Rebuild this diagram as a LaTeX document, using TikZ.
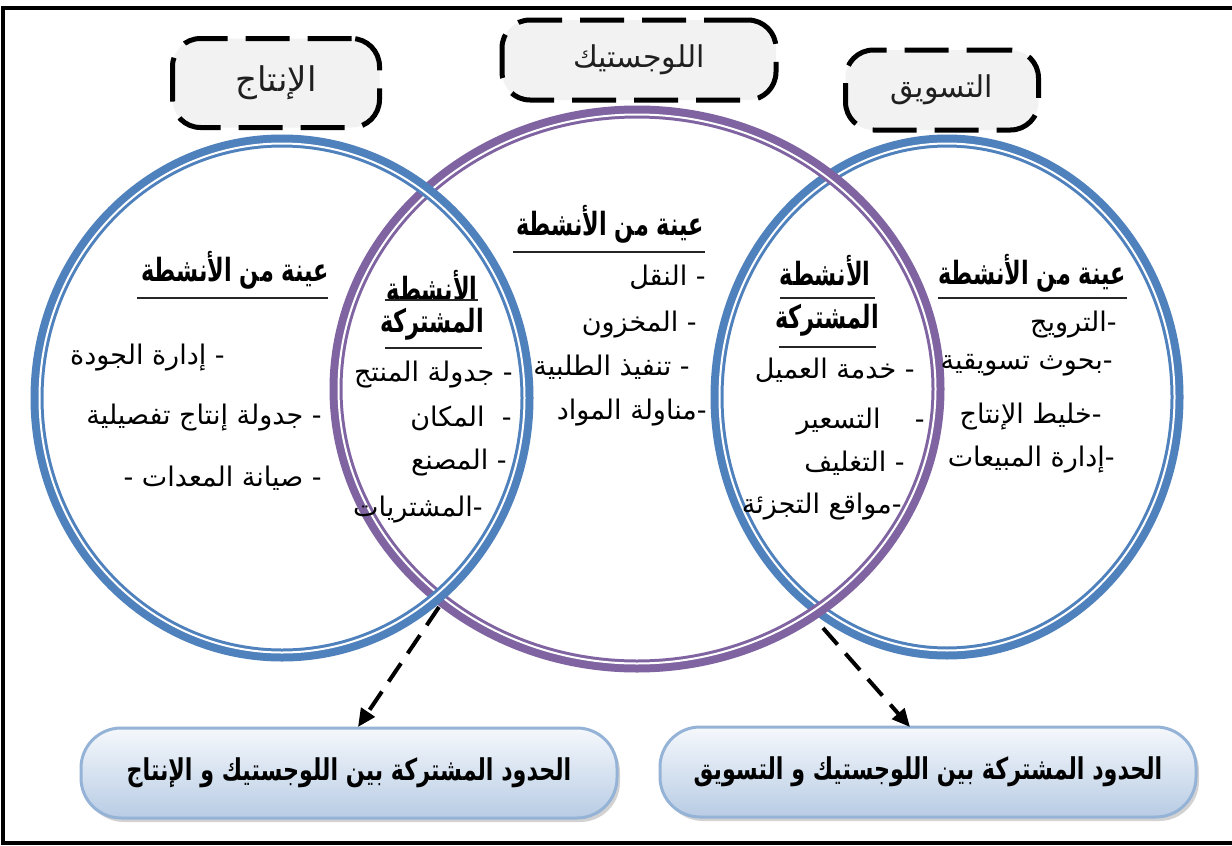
\documentclass[tikz,border=0pt]{standalone}
\usepackage{fontspec}
\usetikzlibrary{arrows.meta,shadows,calc}
\TeXXeTstate=1
\newfontfamily\arfont[Script=Arabic]{DejaVu Sans}
\newfontfamily\arcond[Script=Arabic, FakeStretch=0.7]{DejaVu Sans}
\newfontfamily\arbot[Script=Arabic, FakeStretch=0.74]{DejaVu Sans}
\definecolor{cblue}{HTML}{4F81BD}
\definecolor{cpurp}{HTML}{8064A2}
\definecolor{boxline}{HTML}{95B3D7}
\definecolor{boxtop}{HTML}{F5F8FC}
\definecolor{boxbot}{HTML}{B8CCE4}
\definecolor{lblfill}{HTML}{F2F2F2}
\begin{document}
\begin{tikzpicture}[x=0.5pt,y=-0.5pt,
  item/.style={anchor=east, inner sep=0pt, font=\arfont\fontsize{13.5}{15}\selectfont},
  head/.style={anchor=center, inner sep=0pt, font=\arcond\bfseries\fontsize{16}{18}\selectfont},
  uline/.style={line width=0.7pt, black!85},
  toplabel/.style={draw=black, line width=2.5pt, dash pattern=on 22pt off 9pt, rounded corners=14pt,
     fill=lblfill, inner sep=0pt, text=black!88, font=\arfont\fontsize{15}{17}\selectfont},
  botbox/.style={draw=boxline, line width=1.5pt, rounded corners=20pt, top color=boxtop, bottom color=boxbot,
     drop shadow={shadow xshift=1.5pt, shadow yshift=-2pt, fill=black!35, opacity=0.5},
     minimum width=268pt, minimum height=45pt, inner sep=0pt, font=\arbot\bfseries\fontsize{15}{17}\selectfont},
  ring/.style={line width=6.5pt},
  gap/.style={line width=1pt, white},
  arr/.style={line width=2pt, dash pattern=on 11pt off 6pt, -{Triangle[length=9pt,width=8pt]}}]
\useasboundingbox (0,0) rectangle (1232,846);
\clip (0,0) rectangle (1232,846);
\fill[white] (0,0) rectangle (1232,846);
\draw[line width=2.2pt] (3,8) rectangle (1260,843);

% rings (right blue, purple, left blue)
\draw[ring, cblue] (947,397) ellipse [x radius=115pt, y radius=128pt];
\draw[gap] (947,397) ellipse [x radius=113.75pt, y radius=126.75pt];
\draw[ring, cpurp] (637,389) ellipse [x radius=150.5pt, y radius=138.5pt];
\draw[gap] (637,389) ellipse [x radius=149.25pt, y radius=137.25pt];
\draw[ring, cblue] (282,398) ellipse [x radius=122.5pt, y radius=128.5pt];
\draw[gap] (282,398) ellipse [x radius=121.25pt, y radius=127.25pt];

% top labels
\node[toplabel, minimum width=103.5pt, minimum height=44.5pt, font=\arfont\fontsize{17}{19}\selectfont] (lprod) at (276,83) {\beginR الإنتاج\endR};
\node[toplabel, minimum width=137pt, minimum height=40pt] (llog) at (639,60) {\beginR اللوجستيك\endR};
\node[toplabel, minimum width=96.5pt, minimum height=40pt] (lmkt) at (942,90) {\beginR التسويق\endR};

% left circle
\node[head] (h1) at (235,270) {\beginR عينة من الأنشطة\endR};
\draw[uline] (137,298) -- (328,298);
\node[item] (a1) at (225,358) {\beginR - إدارة الجودة\endR};
\node[item] (a2) at (322,418) {\beginR - جدولة إنتاج تفصيلية\endR};
\node[item] (a3) at (322,478) {\beginR - صيانة المعدات -\endR};

% left intersection
\node[head, align=center, font=\arcond\bfseries\fontsize{16}{16}\selectfont] (h2) at (432,305)
  {\beginR الأنشطة\endR\\\beginR المشتركة\endR};
\draw[uline] (385,300) -- (478,300);
\draw[uline] (385,348) -- (482,348);
\node[item] (b1) at (513,375) {\beginR - جدولة المنتج\endR};
\node[item] (b2) at (512,418) {\beginR -\ \ المكان\endR};
\node[item] (b3) at (507,463) {\beginR - المصنع\endR};
\node[item] (b4) at (483,510) {\beginR -المشتريات\endR};

% centre
\node[head] (h3) at (610,224) {\beginR عينة من الأنشطة\endR};
\draw[uline] (513,252) -- (705,252);
\node[item] (c1) at (706,277) {\beginR - النقل\endR};
\node[item] (c2) at (697,325) {\beginR - المخزون\endR};
\node[item] (c3) at (690,367) {\beginR - تنفيذ الطلبية\endR};
\node[item] (c4) at (707,413) {\beginR -مناولة المواد\endR};

% right intersection
\node[head] (h4a) at (825,271) {\beginR الأنشطة\endR};
\draw[uline] (780,298) -- (875,298);
\node[head] (h4b) at (827,320) {\beginR المشتركة\endR};
\draw[uline] (779,347) -- (876,347);
\node[item] (d1) at (915,370) {\beginR - خدمة العميل\endR};
\node[item] (d2) at (925,422) {\beginR -\ \ \ \ التسعير\endR};
\node[item] (d3) at (905,463) {\beginR - التغليف\endR};
\node[item] (d4) at (902,507) {\beginR -مواقع التجزئة\endR};

% right circle
\node[head] (h5) at (1032,273) {\beginR عينة من الأنشطة\endR};
\draw[uline] (938,298) -- (1127,298);
\node[item] (e1) at (1117,325) {\beginR -الترويج\endR};
\node[item] (e2) at (1113,365) {\beginR -بحوث تسويقية\endR};
\node[item] (e3) at (1102,417) {\beginR -خليط الإنتاج\endR};
\node[item] (e4) at (1115,460) {\beginR -إدارة المبيعات\endR};

% bottom boxes
\node[botbox] (bl) at (349,773) {\beginR الحدود المشتركة بين اللوجستيك و الإنتاج\endR};
\node[botbox] (br) at (928,772) {\beginR الحدود المشتركة بين اللوجستيك و التسويق\endR};

% arrows
\coordinate (i1) at (439,607);
\coordinate (t1) at (358,727);
\coordinate (i2) at (823,628);
\coordinate (t2) at (910,727);
\draw[arr] (i1) -- (t1);
\draw[arr] (i2) -- (t2);
\end{tikzpicture}
\end{document}
